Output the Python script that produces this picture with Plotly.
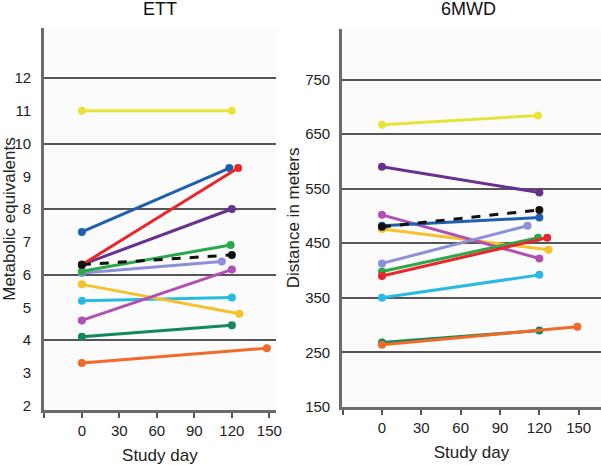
import plotly.graph_objects as go

series = ["yellow", "blue", "red", "purple", "green", "lavender", "magenta",
          "gold", "cyan", "darkgreen", "orange", "mean"]
colors = ["#e6e43a", "#1f5fb0", "#e8262b", "#68308f", "#2aa84a", "#8c90d8", "#b24fb2",
          "#f6c22a", "#2ab9e0", "#11895a", "#f26a2a", "#111111"]

# ETT (metabolic equivalents)
start_day = [0] * 12
ett_day1 = [120, 118, 125, 120, 119, 112, 120, 126, 120, 120, 148, 120]
ett_v0 = [11.0, 7.3, 6.3, 6.3, 6.1, 6.05, 4.6, 5.7, 5.2, 4.1, 3.3, 6.3]
ett_v1 = [11.0, 9.25, 9.25, 8.0, 6.9, 6.4, 6.15, 4.8, 5.3, 4.45, 3.75, 6.6]

# 6MWD (distance in meters)
mwd_day1 = [119, 120, 126, 120, 119, 111, 120, 127, 120, 120, 149, 120]
mwd_v0 = [667, 482, 390, 590, 398, 413, 502, 476, 350, 268, 264, 480]
mwd_v1 = [684, 497, 460, 543, 460, 482, 422, 438, 392, 290, 297, 511]

day_ticks = [-30, 0, 30, 60, 90, 120, 150]
day_text = ["", "0", "30", "60", "90", "120", "150"]
ett_ticks = [2, 3, 4, 5, 6, 7, 8, 9, 10, 11, 12]
ett_grid = [4, 6, 8, 10, 12]
mwd_ticks = [150, 250, 350, 450, 550, 650, 750]

fig = go.Figure()

order = [9, 10, 0, 8, 7, 6, 5, 4, 3, 1, 2, 11]
for i in order:
    dash = "dash" if series[i] == "mean" else "solid"
    fig.add_trace(go.Scatter(
        x=[start_day[i], ett_day1[i]], y=[ett_v0[i], ett_v1[i]],
        mode="lines+markers", xaxis="x", yaxis="y",
        line=dict(color=colors[i], width=3, dash=dash),
        marker=dict(color=colors[i], size=8, symbol="circle"),
        showlegend=False))
    fig.add_trace(go.Scatter(
        x=[start_day[i], mwd_day1[i]], y=[mwd_v0[i], mwd_v1[i]],
        mode="lines+markers", xaxis="x2", yaxis="y2",
        line=dict(color=colors[i], width=3, dash=dash),
        marker=dict(color=colors[i], size=8, symbol="circle"),
        showlegend=False))

font = dict(family="Liberation Sans, Arial, sans-serif", size=14, color="#222")
axis_line = dict(showline=True, linecolor="#6b6b6b", linewidth=2.5, zeroline=False, automargin=False)
tickfont = dict(size=15, color="#222")

fig.update_layout(
    width=601, height=465,
    margin=dict(l=0, r=0, t=0, b=0),
    paper_bgcolor="white", plot_bgcolor="#fbfbfb",
    font=font,
    xaxis=dict(domain=[0.073, 0.459], range=[-30.4, 155.2], tickvals=day_ticks, ticktext=day_text,
               ticks="outside", ticklen=5, tickwidth=1.5, tickcolor="#555", showgrid=False,
               tickfont=tickfont, title=dict(text="Study day", standoff=12), anchor="y", **axis_line),
    yaxis=dict(domain=[0.118, 0.94], range=[1.86, 13.53], tickvals=ett_ticks, showgrid=False,
               ticks="", tickfont=tickfont, ticklabelstandoff=7,
               title=dict(text="Metabolic equivalents", standoff=4), anchor="x",
               minor=dict(tickvals=ett_grid, showgrid=True, gridcolor="#555", gridwidth=1.5, ticks=""),
               **axis_line),
    xaxis2=dict(domain=[0.569, 1.0], range=[-30.5, 167], tickvals=day_ticks, ticktext=day_text,
                ticks="outside", ticklen=5, tickwidth=1.5, tickcolor="#555", showgrid=False,
                tickfont=tickfont, title=dict(text="Study day", standoff=12), anchor="y2", **axis_line),
    yaxis2=dict(domain=[0.125, 0.938], range=[150, 843], tickvals=mwd_ticks, showgrid=True,
                gridcolor="#555", gridwidth=1.5, ticks="", tickfont=tickfont, ticklabelstandoff=6,
                title=dict(text="Distance in meters", standoff=2), anchor="x2", **axis_line),
    annotations=[
        dict(text="ETT", x=160 / 601, y=1 - 9 / 465, xref="paper", yref="paper", showarrow=False,
             font=dict(size=18, color="#111"), xanchor="center", yanchor="middle"),
        dict(text="6MWD", x=468 / 601, y=1 - 9 / 465, xref="paper", yref="paper", showarrow=False,
             font=dict(size=18, color="#111"), xanchor="center", yanchor="middle"),
    ],
)

fig.write_html("out.html", config={"displayModeBar": False},
               post_script="document.body.style.margin='0';")
